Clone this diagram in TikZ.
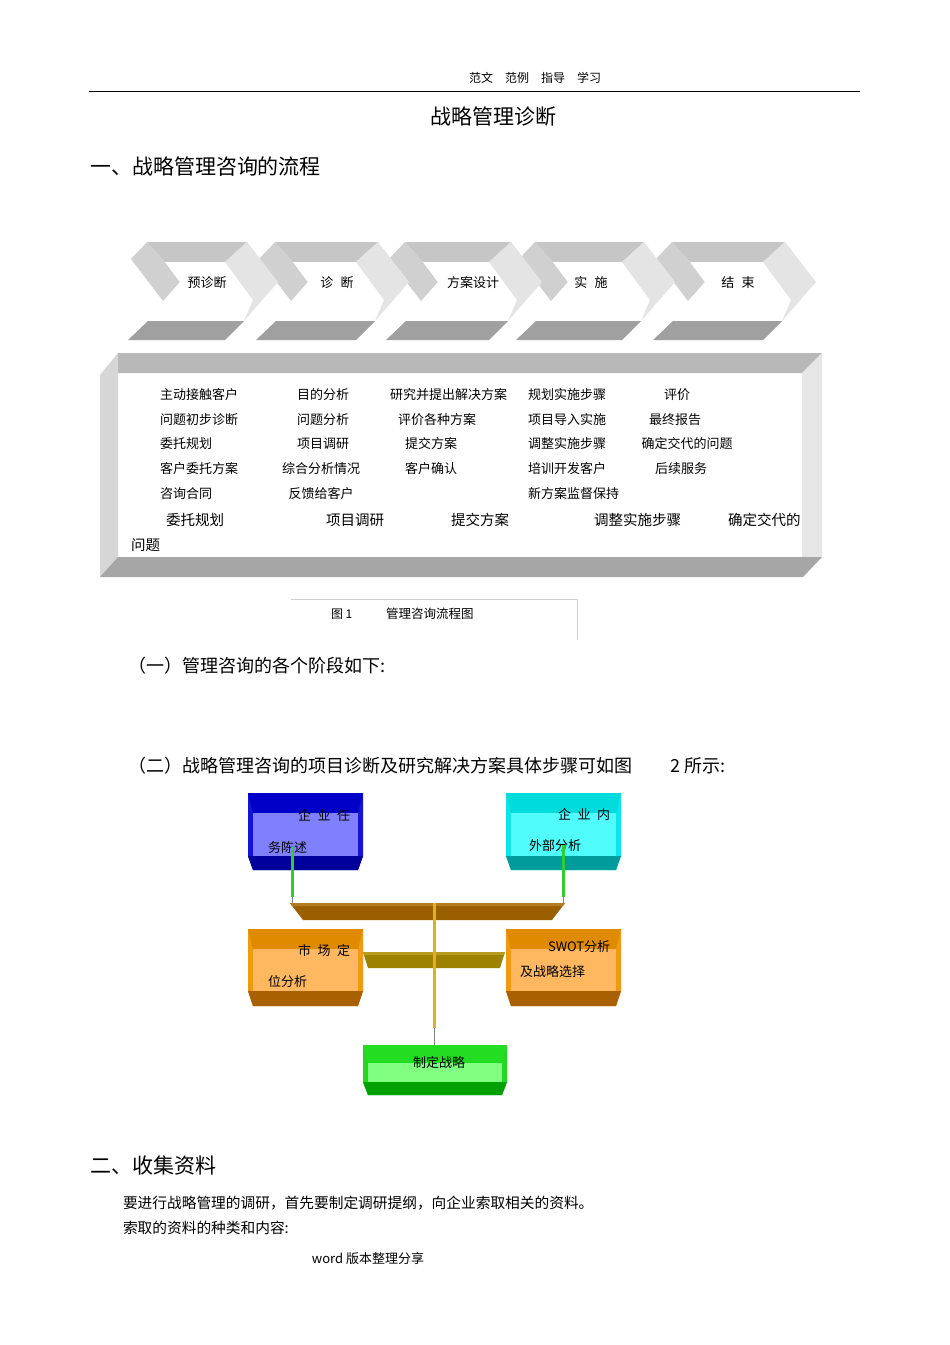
\documentclass[tikz,border=0pt]{standalone}
\usepackage{fontspec}
\setmainfont{Noto Sans CJK SC}
\newcommand\myfs[1]{\fontsize{#1}{#1}\selectfont}
\definecolor{ctop}{HTML}{C6C6C6}
\definecolor{cbevl}{HTML}{D0D0D0}
\definecolor{cbevr}{HTML}{E4E4E4}
\definecolor{cbot}{HTML}{A0A0A0}
\definecolor{ptop}{HTML}{B8B8B8}
\definecolor{pbot}{HTML}{A6A6A6}
\definecolor{pleft}{HTML}{D6D6D6}
\definecolor{pright}{HTML}{E6E6E6}
\definecolor{blueside}{HTML}{1414D8}
\definecolor{bluetop}{HTML}{0000C8}
\definecolor{blueface}{HTML}{8080FF}
\definecolor{bluebot}{HTML}{00009A}
\definecolor{cyanside}{HTML}{10E4E4}
\definecolor{cyantop}{HTML}{00DCDC}
\definecolor{cyanface}{HTML}{50FCFC}
\definecolor{cyanbot}{HTML}{009C9C}
\definecolor{orside}{HTML}{F09A10}
\definecolor{ortop}{HTML}{E08A00}
\definecolor{orface}{HTML}{FFB860}
\definecolor{orbot}{HTML}{A86000}
\definecolor{grside}{HTML}{20D820}
\definecolor{grtop}{HTML}{22DD22}
\definecolor{grface}{HTML}{80FF80}
\definecolor{grbot}{HTML}{00A000}
\definecolor{brownbar}{HTML}{9A6000}
\definecolor{brownhi}{HTML}{B47C20}
\definecolor{olivebar}{HTML}{9C8200}
\definecolor{olivehi}{HTML}{B89C20}
\definecolor{goldline}{HTML}{E0B020}
\definecolor{greenline}{HTML}{30CC30}
\newcommand\mychev[2]{%
 \fill[cbevl] ({#1+4},242) -- ({#1+22},262) -- ({#1+37},282) -- ({#1+20},301) -- ({#1-12},259) -- cycle;
 \fill[ctop] ({#1+4},242) -- ({#1+#2},242) -- ({#1+#2-22},262) -- ({#1+22},262) -- cycle;
 \fill[white] ({#1+22},262) -- ({#1+#2-22},262) -- ({#1+#2+6},300) -- ({#1+#2-3},321) -- ({#1+5},321) -- ({#1+37},282) -- cycle;
 \fill[cbevr] ({#1+#2},242) -- ({#1+#2+31},282) -- ({#1+#2-3},321) -- ({#1+#2+6},300) -- ({#1+#2-22},262) -- cycle;
 \fill[cbot] ({#1+5},321) -- ({#1+#2-3},321) -- ({#1+#2-22},340) -- ({#1-15},340) -- cycle;
}
\newcommand\mybox[7]{%
 \fill[#7side] (#1,#3) -- (#2,#3) -- (#2,#5) -- ({#2-5},#6) -- ({#1+5},#6) -- (#1,#5) -- cycle;
 \fill[#7top] (#1,#3) -- (#2,#3) -- ({#2-5},#4) -- ({#1+5},#4) -- cycle;
 \fill[#7face] ({#1+5},#4) rectangle ({#2-5},#5);
 \fill[#7bot] (#1,#5) -- (#2,#5) -- ({#2-5},#6) -- ({#1+5},#6) -- cycle;
}
\tikzset{
 txt/.style={inner sep=0pt, outer sep=0pt, text=black},
 lt/.style={txt, anchor=west},
 chevtxt/.style={txt, font=\myfs{13}},
 cell/.style={txt, font=\myfs{13}},
 bigcell/.style={txt, font=\myfs{14.5}},
 boxtxt/.style={txt, anchor=west, font=\myfs{13}},
 heading/.style={lt, font=\myfs{21}},
 body/.style={lt, font=\myfs{14.7}},
 sub/.style={lt, font=\myfs{18}},
 gline/.style={greenline, line width=3pt},
 yline/.style={goldline, line width=3pt},
 thinl/.style={gray, line width=0.6pt},
}
\begin{document}
\begin{tikzpicture}[x=1pt,y=-1pt]
\useasboundingbox (0,0) rectangle (950,1345);
\fill[white] (0,0) rectangle (950,1345);
% header
\node[txt, font=\myfs{12}] (hdr) at (535,78) {范文\hspace{1em}范例\hspace{1em}指导\hspace{1em}学习};
\coordinate (hl) at (89,91);
\coordinate (hr) at (860,91);
\draw[black, line width=0.9pt] (hl) -- (hr);
\node[txt, font=\myfs{21}] (title) at (493,117) {战略管理诊断};
\node[heading] (h1) at (90,167) {一、战略管理咨询的流程};
% chevrons (drawn right to left)
\mychev{668}{117}
\mychev{531}{113}
\mychev{401}{110}
\mychev{271}{107}
\mychev{143}{104}
\node[chevtxt] (c1) at (207,283) {预诊断};
\node[chevtxt] (c2) at (337,283) {诊\hspace{0.55em}断};
\node[chevtxt] (c3) at (473,283) {方案设计};
\node[chevtxt] (c4) at (591,283) {实\hspace{0.55em}施};
\node[chevtxt] (c5) at (738,283) {结\hspace{0.55em}束};
% big panel
\fill[white] (118,373) rectangle (802,557);
\fill[ptop] (118,353) -- (822,353) -- (802,373) -- (118,373) -- cycle;
\fill[pleft] (118,353) -- (118,557) -- (100,577) -- (100,375) -- cycle;
\fill[pright] (822,353) -- (822,557) -- (802,557) -- (802,373) -- cycle;
\fill[pbot] (118,557) -- (822,557) -- (803,577) -- (100,577) -- cycle;
% column 1
\node[cell, anchor=west] (a1) at (160,395) {主动接触客户};
\node[cell, anchor=west] (a2) at (160,420) {问题初步诊断};
\node[cell, anchor=west] (a3) at (160,444) {委托规划};
\node[cell, anchor=west] (a4) at (160,469) {客户委托方案};
\node[cell, anchor=west] (a5) at (160,494) {咨询合同};
% column 2
\node[cell] (b1) at (323,395) {目的分析};
\node[cell] (b2) at (323,420) {问题分析};
\node[cell] (b3) at (323,444) {项目调研};
\node[cell] (b4) at (321,469) {综合分析情况};
\node[cell] (b5) at (321,494) {反馈给客户};
% column 3
\node[cell, anchor=west] (d1) at (390,395) {研究并提出解决方案};
\node[cell, anchor=west] (d2) at (398,420) {评价各种方案};
\node[cell, anchor=west] (d3) at (405,444) {提交方案};
\node[cell, anchor=west] (d4) at (405,469) {客户确认};
% column 4
\node[cell, anchor=west] (e1) at (528,395) {规划实施步骤};
\node[cell, anchor=west] (e2) at (528,420) {项目导入实施};
\node[cell, anchor=west] (e3) at (528,444) {调整实施步骤};
\node[cell, anchor=west] (e4) at (528,469) {培训开发客户};
\node[cell, anchor=west] (e5) at (528,494) {新方案监督保持};
% column 5
\node[cell] (f1) at (677,395) {评价};
\node[cell] (f2) at (675,420) {最终报告};
\node[cell] (f3) at (687,444) {确定交代的问题};
\node[cell] (f4) at (681,469) {后续服务};
% big row
\node[bigcell, anchor=west] (g1) at (166,520) {委托规划};
\node[bigcell, anchor=west] (g2) at (326,520) {项目调研};
\node[bigcell, anchor=west] (g3) at (451,520) {提交方案};
\node[bigcell, anchor=west] (g4) at (594,520) {调整实施步骤};
\node[bigcell, anchor=west] (g5) at (728,520) {确定交代的};
\node[bigcell, anchor=west] (g6) at (131,545) {问题};
% caption
\coordinate (capl) at (291,599);
\coordinate (capr) at (577,599);
\coordinate (capb) at (577,640);
\draw[black!18, line width=0.8pt] (capl) -- (capr) -- (capb);
\node[txt, anchor=west, font=\myfs{12}] (fig1) at (331,614) {图 1};
\node[txt, anchor=west, font=\myfs{12.5}] (figt) at (386,614) {管理咨询流程图};
% sub headings
\node[sub] (s1) at (128,666) {（一）管理咨询的各个阶段如下:};
\node[sub] (s2) at (128,766) {（二）战略管理咨询的项目诊断及研究解决方案具体步骤可如图};
\node[sub] (s2b) at (670,766) {2 所示:};
% diagram 2
\mybox{248}{363}{793}{813}{856}{870}{blue}
\mybox{506}{621}{793}{813}{856}{870}{cyan}
\mybox{248}{363}{929}{949}{991}{1006}{or}
\mybox{506}{621}{929}{949}{991}{1006}{or}
\mybox{363}{507}{1045}{1063}{1082}{1095}{gr}
\node[boxtxt] (t1a) at (298,815) {企\hspace{0.5em}业\hspace{0.5em}任};
\node[boxtxt] (t1b) at (268,847) {务陈述};
\node[boxtxt] (t2a) at (558,815) {企\hspace{0.5em}业\hspace{0.5em}内};
\node[boxtxt] (t2b) at (529,846) {外部分析};
\node[boxtxt] (t3a) at (298,951) {市\hspace{0.5em}场\hspace{0.5em}定};
\node[boxtxt] (t3b) at (268,982) {位分析};
\node[boxtxt] (t4a) at (548,947) {SWOT分析};
\node[boxtxt] (t4b) at (520,972) {及战略选择};
\node[txt, font=\myfs{13}] (t5) at (439,1063) {制定战略};
% bars
\coordinate (brL) at (290,903);
\coordinate (brR) at (565,903);
\fill[brownbar] (brL) -- (brR) -- (552,920) -- (303,920) -- cycle;
\fill[brownhi] (brL) -- (brR) -- (563,906) -- (292,906) -- cycle;
\coordinate (olL) at (363,952);
\coordinate (olR) at (505,952);
\fill[olivebar] (olL) -- (olR) -- (500,968) -- (368,968) -- cycle;
\fill[olivehi] (olL) -- (olR) -- (504,955) -- (364,955) -- cycle;
% connectors
\coordinate (g1s) at (292,847);
\coordinate (g1e) at (292,897);
\coordinate (g1f) at (292,903);
\coordinate (g2s) at (563,845);
\coordinate (g2e) at (563,897);
\coordinate (g2f) at (563,903);
\draw[gline] (g1s) -- (g1e);
\draw[thinl] (g1e) -- (g1f);
\draw[gline] (g2s) -- (g2e);
\draw[thinl] (g2e) -- (g2f);
\coordinate (ys) at (434,903);
\coordinate (ye) at (434,1028);
\coordinate (yf) at (434,1045);
\draw[yline] (ys) -- (ye);
\draw[thinl] (ye) -- (yf);
% section two
\node[heading] (h2) at (90,1165) {二、收集资料};
\node[body] (p1) at (123,1203) {要进行战略管理的调研，首先要制定调研提纲，向企业索取相关的资料。};
\node[body] (p2) at (123,1228) {索取的资料的种类和内容:};
\node[txt, font=\myfs{13}] (foot) at (368,1259) {word 版本整理分享};
\end{tikzpicture}
\end{document}
